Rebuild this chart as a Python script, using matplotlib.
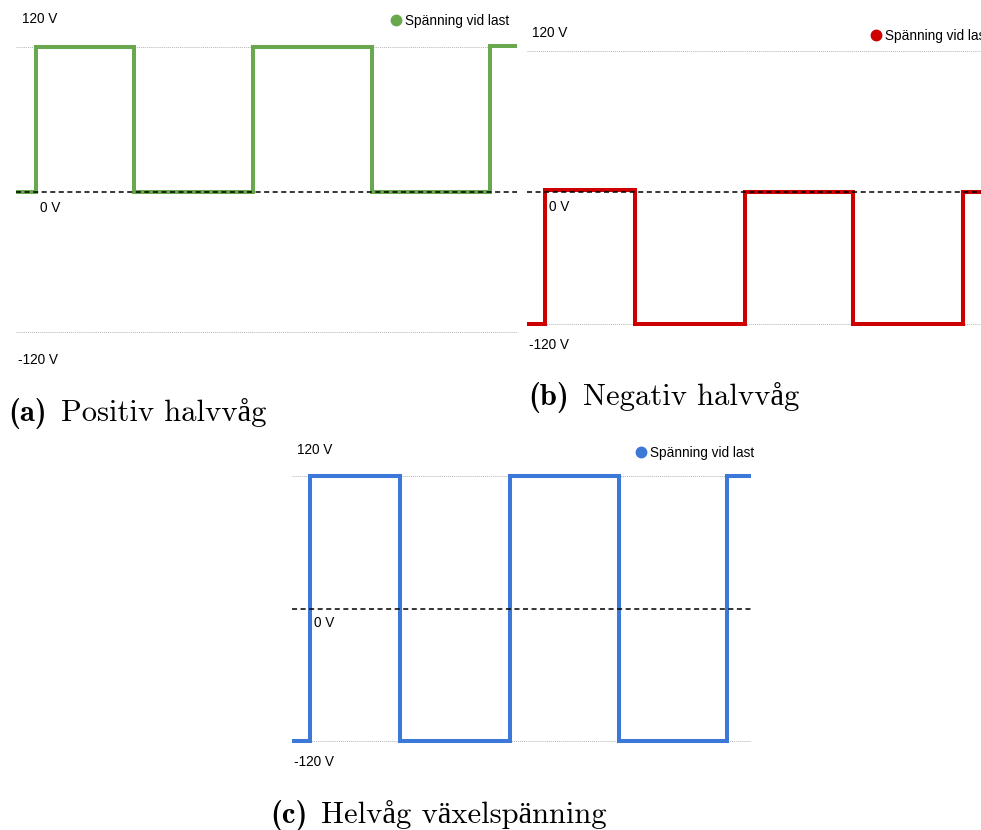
import matplotlib
matplotlib.use("Agg")
import matplotlib.pyplot as plt
from matplotlib.lines import Line2D

W, H = 981, 830

# ---- data (arbitrary time units 0..100, volts) ----
edges_a = [0, 4.0, 23.6, 47.3, 71.1, 94.6, 100]
levels_a = [-2, 120, -2, 120, -2, 121]
zero_a = -2

edges_b = [0, 4.0, 23.8, 48.0, 71.8, 96.0, 100]
levels_b = [-120, -2, -120, -4, -120, -4]
zero_b = -4

edges_c = [0, 3.9, 23.5, 47.5, 71.2, 94.8, 100]
levels_c = [-120, 120, -120, 120, -120, 120]
zero_c = 0

grid_levels = [120, -120]
tick_labels = ["120 V", "0 V", "-120 V"]
legend_label = "Spänning vid last"
captions = [("(a)", "Positiv halvvåg"), ("(b)", "Negativ halvvåg"), ("(c)", "Helvåg växelspänning")]

GREEN, RED, BLUE = "#6aa84f", "#cc0000", "#3c78d8"

fig = plt.figure(figsize=(W / 100, H / 100), dpi=100)


def rect(l, r, t, b):
    return [l / W, 1 - b / H, (r - l) / W, (b - t) / H]


def fx(x):
    return x / W


def fy(y):
    return 1 - y / H


SANS = ["Liberation Sans", "DejaVu Sans"]


def panel(box, edges, levels, zero, color, label_pos, legend_pos, caption, cap_pos):
    ax = fig.add_axes(rect(*box))
    ax.set_xlim(0, 100)
    ax.set_ylim(-120, 120)
    ax.axis("off")
    for g in grid_levels:
        ax.axhline(g, color="#b5b5b5", lw=0.7, ls=(0, (1, 1)), clip_on=False, zorder=1)
    ax.axhline(zero, color="black", lw=1.1, ls=(0, (3.3, 2.3)), clip_on=False, zorder=3)
    ax.stairs(levels, edges, baseline=None, edgecolor=color, lw=2.9, fill=False,
              joinstyle="miter", clip_on=False, zorder=2)
    for (x, y), s in zip(label_pos, tick_labels):
        fig.text(fx(x), fy(y), s, ha="left", va="center", fontsize=9.8, family=SANS)
    # legend
    fs = 9.8
    hl = 0.7
    hpx = hl * fs * 100 / 72
    dx, dy = legend_pos
    h = Line2D([], [], ls="none", marker="o", markersize=7.5, color=color)
    ax.legend([h], [legend_label], loc="center left",
              bbox_to_anchor=(fx(dx - hpx / 2), fy(dy)),
              bbox_transform=fig.transFigure, frameon=False, borderpad=0,
              borderaxespad=0, handlelength=hl, handletextpad=0.3,
              prop={"family": SANS, "size": fs})
    # caption
    bold, rest = caption
    cx, cy = cap_pos
    t1 = fig.text(fx(cx), fy(cy), bold, ha="left", va="baseline", fontsize=22,
                  family=["cmb10", "Liberation Serif"])
    fig.canvas.draw()
    bb = t1.get_window_extent()
    fig.text((bb.x1 + 14) / W, fy(cy), rest, ha="left", va="baseline", fontsize=22,
             family=["cmr10", "Liberation Serif"])


panel((16, 517, 47, 332), edges_a, levels_a, zero_a, GREEN,
      [(22, 19), (40, 208), (18, 360)], (396, 21), captions[0], (8, 421))
panel((527, 981, 51, 324), edges_b, levels_b, zero_b, RED,
      [(532, 33), (549, 207), (529, 345)], (876, 36), captions[1], (528, 405))
panel((292, 751, 476, 741), edges_c, levels_c, zero_c, BLUE,
      [(297, 450), (314, 623), (294, 762)], (641, 453), captions[2], (270, 823))

fig.savefig("out.png", dpi=100)
